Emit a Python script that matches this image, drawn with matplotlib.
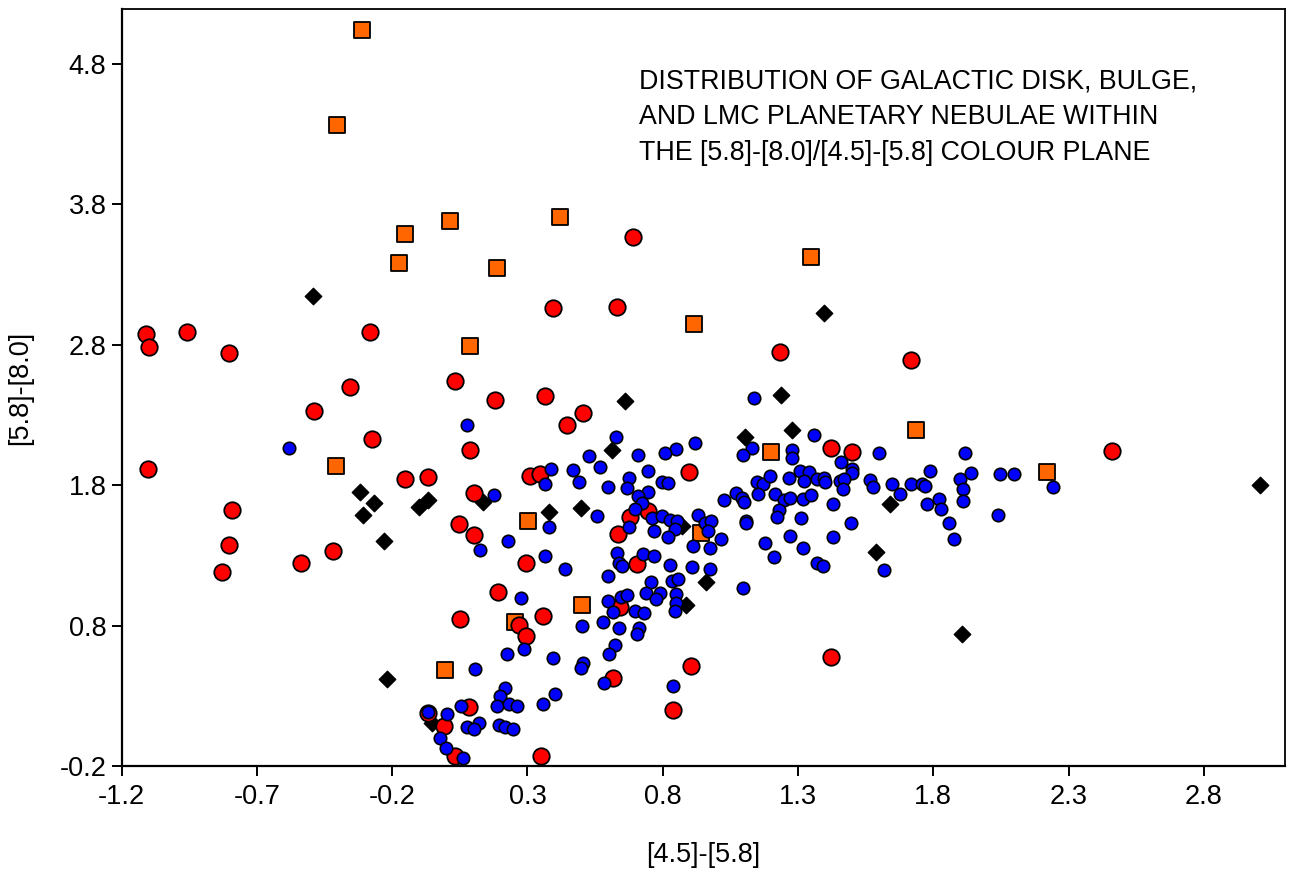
import matplotlib
matplotlib.use("Agg")
import matplotlib.pyplot as plt
import numpy as np

plt.rcParams['font.family'] = ['Liberation Sans', 'DejaVu Sans']

# [4.5]-[5.8] (x) and [5.8]-[8.0] (y) colours for each group of nebulae
blue_x = [-0.582, 0.076, 0.627, 0.528, 0.569, 0.468, 0.386, 0.366, 0.489, 0.597,
          0.177, 0.557, 0.378, 0.227, 0.125, 0.366, 0.631,
          1.136, 1.358, 0.918, 0.849, 0.807, 0.708, 1.130, 1.097, 1.278, 1.278,
          0.747, 0.677, 0.668, 0.797, 0.819, 0.747, 0.708, 0.723, 0.696, 0.677,
          0.762, 0.797, 0.828, 0.852, 0.846, 0.766, 0.818, 0.929, 0.957, 0.978,
          0.969, 1.016, 0.912, 0.973, 0.727, 0.766, 1.025, 1.072, 1.093, 1.099,
          1.148, 1.170, 1.197, 1.151, 1.216, 1.247, 1.269, 1.268, 1.308, 1.339,
          1.321, 1.370, 1.319, 1.348, 1.228, 1.222, 1.109, 1.109, 1.311, 1.269,
          1.179, 1.317, 1.210,
          1.598, 1.919, 1.459, 1.500, 1.500, 1.789, 1.940, 2.048, 2.097, 1.395,
          1.401, 1.454, 1.469, 1.466, 1.567, 1.577, 1.648, 1.718, 1.759, 1.771,
          1.678, 1.900, 1.909, 1.910, 1.820, 1.829, 1.777, 1.428, 1.497, 1.857,
          2.038, 1.428, 1.878, 2.244, 1.616, 1.370, 1.393,
          0.637, 0.649, 0.596, 0.825, 0.908, 0.976, 0.756, 0.834, 0.858, 1.096,
          0.738, 0.788, 0.776, 0.850, 0.850, 0.846, 0.596, 0.645, 0.668, 0.616,
          0.698, 0.729, 0.579, 0.640, 0.714, 0.705, 0.622, 0.603, 0.584, 0.838,
          0.437, 0.277, 0.501, 0.288, 0.226, 0.394, 0.505, 0.499, 0.107, 0.217,
          0.199, 0.400, 0.357, 0.187, 0.230, 0.261, 0.054, -0.066, 0.002, 0.119,
          0.078, 0.103, 0.196, 0.217, 0.246, -0.023, -0.002, 0.061]
blue_y = [2.067, 2.229, 2.141, 2.008, 1.927, 1.908, 1.918, 1.808, 1.821, 1.789,
          1.728, 1.581, 1.500, 1.400, 1.338, 1.296, 1.315,
          2.419, 2.157, 2.098, 2.058, 2.027, 2.015, 2.067, 2.017, 2.051, 1.992,
          1.901, 1.849, 1.778, 1.821, 1.818, 1.749, 1.725, 1.671, 1.630, 1.500,
          1.564, 1.581, 1.552, 1.547, 1.488, 1.476, 1.429, 1.588, 1.528, 1.545,
          1.476, 1.417, 1.367, 1.350, 1.310, 1.296, 1.694, 1.747, 1.707, 1.683,
          1.821, 1.806, 1.868, 1.737, 1.737, 1.694, 1.707, 1.849, 1.903, 1.896,
          1.830, 1.844, 1.702, 1.730, 1.623, 1.571, 1.547, 1.528, 1.564, 1.440,
          1.390, 1.350, 1.286,
          2.027, 2.027, 1.967, 1.913, 1.885, 1.901, 1.889, 1.877, 1.877, 1.849,
          1.825, 1.832, 1.842, 1.771, 1.837, 1.789, 1.808, 1.808, 1.808, 1.794,
          1.737, 1.842, 1.771, 1.690, 1.702, 1.630, 1.666, 1.666, 1.528, 1.528,
          1.588, 1.433, 1.417, 1.784, 1.197, 1.249, 1.224,
          1.244, 1.224, 1.153, 1.231, 1.219, 1.203, 1.113, 1.120, 1.130, 1.066,
          1.030, 1.030, 0.989, 1.025, 0.959, 0.904, 0.977, 1.001, 1.018, 0.899,
          0.906, 0.887, 0.828, 0.781, 0.785, 0.738, 0.662, 0.598, 0.393, 0.370,
          1.201, 0.999, 0.799, 0.631, 0.598, 0.567, 0.536, 0.500, 0.491, 0.358,
          0.298, 0.313, 0.241, 0.229, 0.239, 0.229, 0.227, 0.187, 0.170, 0.108,
          0.075, 0.061, 0.092, 0.075, 0.063, 0.001, -0.074, -0.145]

red_x = [-1.110, -1.099, -0.960, -0.805, -0.282, -0.356, -0.489, -0.275, -1.104,
         -0.152, -0.793, -0.805, -0.831, -0.537, -0.419,
         0.033, 0.180, 0.365, 0.505, 0.447, 0.088, -0.067, 0.310, 0.347, 0.101,
         0.045, 0.101, 0.636, 0.295, 0.896, 0.680, 0.746, 1.423, 1.500, 1.234,
         1.719, 2.461, 0.691, 0.631, 0.395,
         0.190, 0.051, 0.357, 0.267, 0.295, 0.082, -0.066, -0.007, 0.033, 0.349,
         0.616, 0.904, 0.836, 0.705, 0.643, 1.423]
red_y = [2.876, 2.786, 2.893, 2.739, 2.893, 2.501, 2.331, 2.129, 1.913,
         1.842, 1.623, 1.374, 1.184, 1.248, 1.331,
         2.542, 2.407, 2.435, 2.314, 2.229, 2.050, 1.859, 1.865, 1.880, 1.742,
         1.523, 1.445, 1.452, 1.245, 1.896, 1.573, 1.616, 2.067, 2.038, 2.748,
         2.692, 2.044, 3.568, 3.069, 3.062,
         1.041, 0.847, 0.868, 0.804, 0.728, 0.222, 0.175, 0.085, -0.129, -0.129,
         0.424, 0.512, 0.199, 1.239, 0.934, 0.577]

orange_x = [-0.311, -0.404, -0.152, -0.175, 0.014, 0.421, 0.188, 1.349, 0.917,
            0.088, -0.408, 0.302, 1.201, 1.737, 2.222, 0.942, 0.503, 0.253,
            -0.004]
orange_y = [5.042, 4.365, 3.589, 3.382, 3.682, 3.711, 3.346, 3.425, 2.948,
            2.792, 1.937, 1.544, 2.036, 2.193, 1.894, 1.459, 0.947, 0.826,
            0.484]

black_x = [-0.492, 1.397, 0.660, 1.238, 1.279, 1.105, 0.612, -0.319, -0.267,
           -0.307, -0.101, -0.067, -0.230, 0.136, 0.380, 0.499, 0.872, 1.639,
           1.587, 3.006, 1.907, 0.886, 0.960, -0.219, -0.053]
black_y = [3.147, 3.027, 2.400, 2.443, 2.193, 2.143, 2.051, 1.752, 1.673,
           1.588, 1.645, 1.694, 1.403, 1.680, 1.608, 1.637, 1.509, 1.666,
           1.326, 1.798, 0.740, 0.947, 1.109, 0.419, 0.104]

x_ticks = np.arange(-1.2, 2.81, 0.5)
y_ticks = np.arange(-0.2, 4.81, 1.0)

title = ("DISTRIBUTION OF GALACTIC DISK, BULGE,\n"
         "AND LMC PLANETARY NEBULAE WITHIN\n"
         "THE [5.8]-[8.0]/[4.5]-[5.8] COLOUR PLANE")

fig = plt.figure(figsize=(12.89, 8.73), dpi=100)
ax = fig.add_axes([0.0944, 0.1226, 0.9025, 0.8667])

# squares at the back, blue disk points on top
ax.scatter(orange_x, orange_y, marker='s', s=140, c='#ff6600',
           edgecolors='black', linewidths=1.3, zorder=2)
ax.scatter(black_x, black_y, marker='D', s=70, c='black',
           edgecolors='black', linewidths=1.0, zorder=3)
ax.scatter(red_x, red_y, marker='o', s=140, c='#ff0000',
           edgecolors='black', linewidths=1.3, zorder=4)
ax.scatter(blue_x, blue_y, marker='o', s=80, c='#0000ff',
           edgecolors='black', linewidths=1.2, zorder=5)

ax.set_xlim(-1.2, 3.1)
ax.set_ylim(-0.2, 5.19)
ax.set_xticks(x_ticks)
ax.set_yticks(y_ticks)
ax.set_xticklabels(['%.1f' % v for v in x_ticks])
ax.set_yticklabels(['%.1f' % v for v in y_ticks])
ax.tick_params(direction='out', length=7, width=1.4, labelsize=19.5)
ax.tick_params(axis='x', pad=6)
ax.tick_params(axis='y', pad=4)

for side in ['left', 'bottom']:
    ax.spines[side].set_linewidth(1.6)
for side in ['top', 'right']:
    ax.spines[side].set_linewidth(1.3)

ax.set_xlabel('[4.5]-[5.8]', fontsize=19.5, va='center')
ax.set_ylabel('[5.8]-[8.0]', fontsize=19.5, va='center')
ax.xaxis.set_label_coords(0.5, -0.1176)
ax.yaxis.set_label_coords(-0.0874, 0.5)

fig.text(639 / 1289, 1 - 69 / 873, title, fontsize=19.3, ha='left', va='top',
         linespacing=1.47)

fig.savefig('out.png', dpi=100)
